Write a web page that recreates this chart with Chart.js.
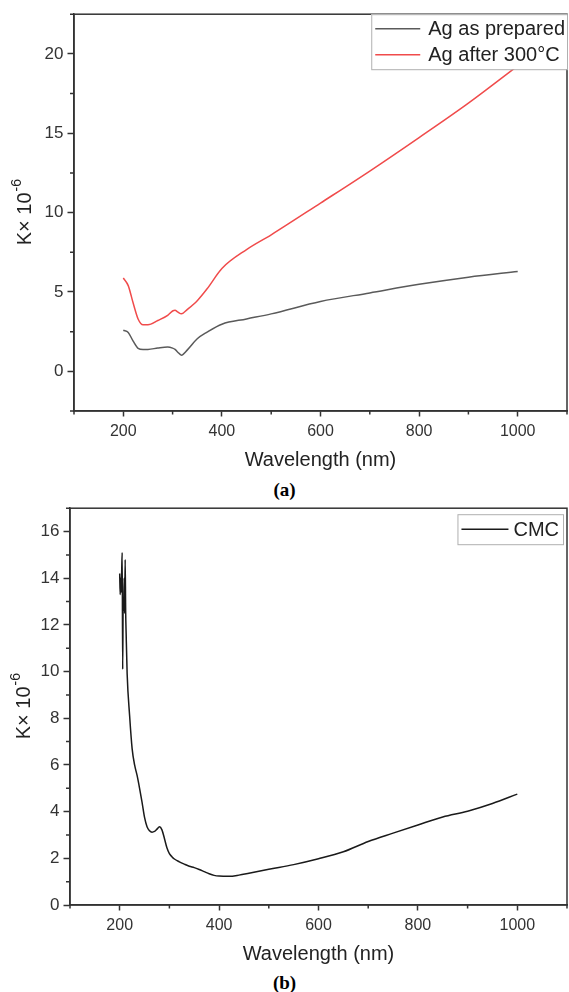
<!DOCTYPE html>
<html>
<head>
<meta charset="utf-8">
<script src="https://cdn.jsdelivr.net/npm/chart.js@4.4.1/dist/chart.umd.min.js"></script>
<style>
    body { margin: 0; background: #fff; }
    #page { position: relative; width: 569px; height: 992px; overflow: hidden; background: #fff; }
    .box { position: absolute; left: 0; width: 569px; }
    .cap { position: absolute; left: 0; width: 569px; text-align: center;
           font: bold 19px "Liberation Serif", "Times New Roman", serif; color: #000; line-height: 20px; }
</style>
</head>
<body>
<div id="page">
    <div class="box" style="top:0;height:475px"><canvas id="chartA"></canvas></div>
    <div class="cap" style="top:480px">(a)</div>
    <div class="box" style="top:494px;height:476px"><canvas id="chartB"></canvas></div>
    <div class="cap" style="top:973px">(b)</div>
</div>
<script>
// ---- data (a): Ag films ----
const wavelengthA = [200, 210, 220, 230, 240, 250, 270, 290, 300, 305, 310, 318, 330, 350, 370, 400, 450, 500, 600, 700, 800, 900, 1000];
const agPrepared  = [2.59, 2.45, 1.9, 1.45, 1.38, 1.38, 1.47, 1.53, 1.46, 1.38, 1.22, 1.02, 1.35, 2.05, 2.47, 2.97, 3.3, 3.62, 4.4, 4.94, 5.48, 5.93, 6.29];
const agAnnealed  = [5.88, 5.4, 4.3, 3.3, 2.93, 2.93, 3.2, 3.52, 3.8, 3.85, 3.75, 3.62, 3.9, 4.45, 5.2, 6.48, 7.67, 8.6, 10.6, 12.62, 14.73, 16.9, 19.25];
const labelsA = ['Ag as prepared', 'Ag after 300°C'];

// ---- data (b): CMC ----
const wavelengthB = [200, 201, 202, 203, 204, 205, 206, 207, 208, 209, 210, 211, 212, 213,
    215, 220, 225, 230, 235, 240, 245, 250, 255, 260, 265, 270, 275, 280, 285, 290, 295, 300, 305, 310,
    320, 330, 340, 350, 360, 370, 380, 390, 400,
    420, 440, 460, 500, 550, 600, 650, 700, 750, 800, 850, 900, 950, 1000];
const cmc = [14.2, 13.3, 14.0, 13.4, 14.3, 15.1, 10.1, 13.0, 12.6, 14.0, 12.5, 14.8, 12.6, 11.6,
    9.9, 8.1, 6.7, 6.0, 5.55, 5.0, 4.4, 3.75, 3.35, 3.18, 3.12, 3.15, 3.25, 3.35, 3.22, 2.85, 2.45, 2.2, 2.07, 1.97,
    1.85, 1.75, 1.66, 1.6, 1.52, 1.43, 1.34, 1.27, 1.24,
    1.23, 1.28, 1.36, 1.53, 1.73, 1.98, 2.28, 2.72, 3.08, 3.43, 3.77, 4.02, 4.35, 4.75];
const labelsB = ['CMC'];

// ---- tick labels ----
const xTicks  = [200, 400, 600, 800, 1000];
const yTicksA = [0, 5, 10, 15, 20];
const yTicksB = [0, 2, 4, 6, 8, 10, 12, 14, 16];

const axisColor = '#333';
const fontFamily = '"Liberation Sans", Arial, sans-serif';

function pts(xs, ys) {
    return xs.map((x, i) => ({ x: x, y: ys[i] }));
}

// minor ticks, frame, y title with superscript and the in-plot legend box
const framePlugin = {
    id: 'frame',
    afterDraw(chart, args, opts) {
        const ctx = chart.ctx;
        const { left, right, top, bottom } = chart.chartArea;
        const sx = chart.scales.x, sy = chart.scales.y;
        ctx.save();
        ctx.strokeStyle = axisColor;
        ctx.lineWidth = 1.5;
        ctx.beginPath();
        opts.xMinor.forEach(v => {
            const px = sx.getPixelForValue(v);
            ctx.moveTo(px, bottom); ctx.lineTo(px, bottom + 3.5);
        });
        opts.yMinor.forEach(v => {
            const py = sy.getPixelForValue(v);
            ctx.moveTo(left, py); ctx.lineTo(left - 4, py);
        });
        ctx.stroke();
        ctx.strokeRect(left, top, right - left, bottom - top);

        // y axis title: K× 10^-6
        ctx.save();
        ctx.translate(opts.titleX, (top + bottom) / 2);
        ctx.rotate(-Math.PI / 2);
        ctx.fillStyle = '#222';
        ctx.textBaseline = 'middle';
        ctx.textAlign = 'left';
        const base = 'K× 10', sup = '-6';
        ctx.font = '20px ' + fontFamily;
        const wBase = ctx.measureText(base).width;
        ctx.font = '14px ' + fontFamily;
        const wSup = ctx.measureText(sup).width;
        const x0 = -(wBase + wSup) / 2;
        ctx.font = '20px ' + fontFamily;
        ctx.fillText(base, x0, 0);
        ctx.font = '14px ' + fontFamily;
        ctx.fillText(sup, x0 + wBase + 1, -8);
        ctx.restore();

        // legend
        const lg = opts.legend;
        ctx.font = '20px ' + fontFamily;
        const sets = chart.data.datasets;
        const textW = Math.max(...sets.map(d => ctx.measureText(d.label).width));
        const boxW = lg.pad + lg.sample + lg.gap + textW + lg.padR;
        const boxH = sets.length * lg.rowH + 3;
        const bx = right - lg.insetR - boxW, by = top + lg.insetT;
        ctx.fillStyle = '#fff';
        ctx.fillRect(bx, by, boxW, boxH);
        ctx.strokeStyle = '#b0b0b0';
        ctx.lineWidth = 1;
        ctx.strokeRect(bx + 0.5, by + 0.5, boxW, boxH);
        sets.forEach((d, i) => {
            const cy = by + 1.5 + lg.rowH * (i + 0.5);
            ctx.strokeStyle = d.borderColor;
            ctx.lineWidth = 1.5;
            ctx.beginPath();
            ctx.moveTo(bx + lg.pad, cy); ctx.lineTo(bx + lg.pad + lg.sample, cy);
            ctx.stroke();
            ctx.fillStyle = '#222';
            ctx.textBaseline = 'middle';
            ctx.textAlign = 'left';
            ctx.fillText(d.label, bx + lg.pad + lg.sample + lg.gap, cy + 1);
        });
        ctx.restore();
    }
};

function makeOptions(c) {
    return {
        responsive: true,
        maintainAspectRatio: false,
        animation: false,
        layout: { padding: { top: c.padTop, right: 2, left: 0, bottom: 0 } },
        elements: { point: { radius: 0 }, line: { borderWidth: 1.5, cubicInterpolationMode: 'monotone' } },
        scales: {
            x: {
                type: 'linear',
                min: 100, max: 1100,
                afterBuildTicks: s => { s.ticks = xTicks.map(v => ({ value: v })); },
                afterFit: s => { s.height = c.xHeight; },
                border: { display: true, color: axisColor, width: 1.5 },
                grid: { drawOnChartArea: false, drawTicks: true, tickLength: 5.5, tickColor: axisColor, tickWidth: 1.5 },
                ticks: { color: axisColor, padding: 5, font: { family: fontFamily, size: 16 }, maxRotation: 0,
                         callback: v => String(v) },
                title: { display: true, text: 'Wavelength (nm)', color: '#222',
                         font: { family: fontFamily, size: 20 }, padding: { top: 0, bottom: c.titleBottom } }
            },
            y: {
                type: 'linear',
                min: c.yMin, max: c.yMax,
                afterBuildTicks: s => { s.ticks = c.yTicks.map(v => ({ value: v })); },
                afterFit: s => { s.width = c.yWidth; },
                border: { display: true, color: axisColor, width: 1.5 },
                grid: { drawOnChartArea: false, drawTicks: true, tickLength: 6.5, tickColor: axisColor, tickWidth: 1.5 },
                ticks: { color: axisColor, padding: 4, font: { family: fontFamily, size: 17 },
                         callback: v => String(v) },
                title: { display: false }
            }
        },
        plugins: {
            legend: { display: false },
            tooltip: { enabled: false },
            frame: { xMinor: c.xMinor, yMinor: c.yMinor, legend: c.legend, titleX: c.titleX }
        }
    };
}

new Chart(document.getElementById('chartA'), {
    type: 'line',
    data: {
        datasets: [
            { label: labelsA[0], data: pts(wavelengthA, agPrepared), borderColor: '#5a5a5a' },
            { label: labelsA[1], data: pts(wavelengthA, agAnnealed), borderColor: '#f04b4b' }
        ]
    },
    options: makeOptions({
        padTop: 11, xHeight: 64, yWidth: 74, titleBottom: 3, titleX: 25,
        yMin: -2.5, yMax: 22.5, yTicks: yTicksA,
        xMinor: [100, 300, 500, 700, 900, 1100],
        yMinor: [-2.5, 2.5, 7.5, 12.5, 17.5, 22.5],
        legend: { insetT: 0, insetR: 0, pad: 4, sample: 45, gap: 8, padR: 2, rowH: 26 }
    }),
    plugins: [framePlugin]
});

new Chart(document.getElementById('chartB'), {
    type: 'line',
    data: {
        datasets: [
            { label: labelsB[0], data: pts(wavelengthB, cmc), borderColor: '#1a1a1a' }
        ]
    },
    options: makeOptions({
        padTop: 10, xHeight: 65, yWidth: 70, titleBottom: 4, titleX: 24,
        yMin: 0, yMax: 17, yTicks: yTicksB,
        xMinor: [100, 300, 500, 700, 900, 1100],
        yMinor: [1, 3, 5, 7, 9, 11, 13, 15, 17],
        legend: { insetT: 6, insetR: 4, pad: 4, sample: 47, gap: 5, padR: 4, rowH: 27 }
    }),
    plugins: [framePlugin]
});
</script>
</body>
</html>
